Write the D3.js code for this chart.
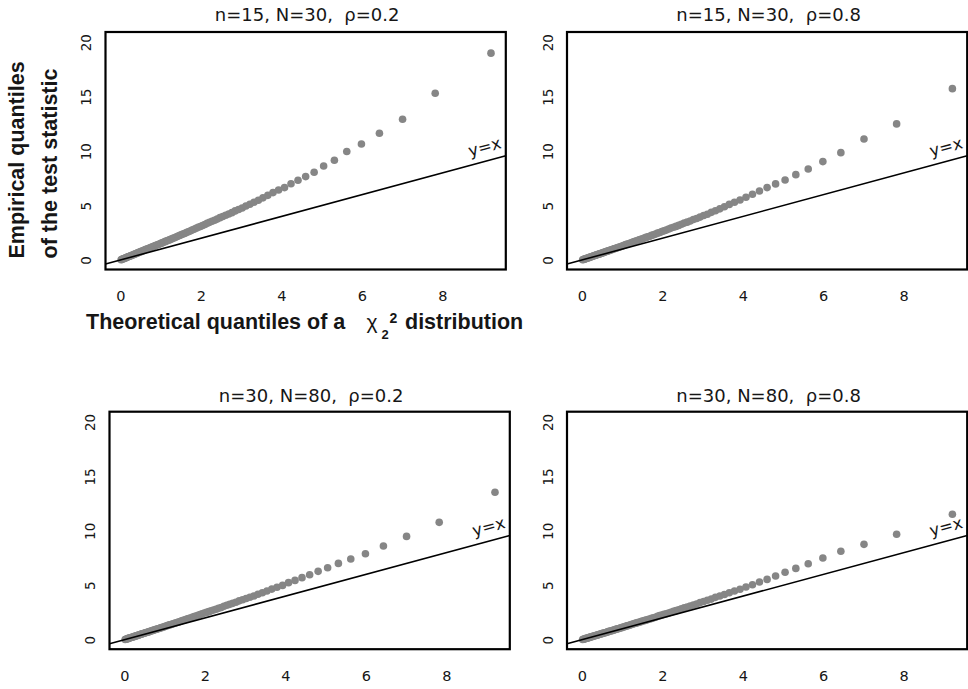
<!DOCTYPE html>
<html>
<head>
<meta charset="utf-8">
<script src="https://cdn.jsdelivr.net/npm/d3@7"></script>
<style>
  html, body { margin: 0; padding: 0; background: #ffffff; }
  svg { display: block; }
  text { white-space: pre; }
</style>
</head>
<body>
<svg id="chart" width="968" height="689"></svg>
<script>
// ---------------- data ----------------
// theoretical chi-square(2) quantiles (p = 0.01 ... 0.99)
const xQuantiles = [
  0.020,0.040,0.061,0.082,0.103,0.124,0.145,0.167,0.189,0.211,
  0.233,0.256,0.279,0.302,0.325,0.349,0.373,0.397,0.421,0.446,
  0.471,0.497,0.523,0.549,0.575,0.602,0.629,0.657,0.685,0.713,
  0.742,0.771,0.801,0.831,0.862,0.893,0.924,0.956,0.989,1.022,
  1.055,1.090,1.124,1.160,1.196,1.232,1.270,1.308,1.347,1.386,
  1.427,1.468,1.510,1.553,1.597,1.642,1.688,1.735,1.783,1.833,
  1.883,1.935,1.989,2.043,2.100,2.158,2.217,2.279,2.342,2.408,
  2.476,2.546,2.619,2.694,2.773,2.854,2.939,3.028,3.121,3.219,
  3.321,3.430,3.544,3.665,3.794,3.932,4.080,4.241,4.415,4.605,
  4.816,5.052,5.319,5.627,5.991,6.438,7.013,7.824,9.210
];

// empirical quantiles, n=15, N=30, rho=0.2
const yN15Rho02 = [
  0.03,0.06,0.09,0.12,0.16,0.19,0.22,0.25,0.29,0.32,
  0.35,0.39,0.42,0.46,0.49,0.53,0.57,0.60,0.64,0.68,
  0.72,0.76,0.79,0.83,0.87,0.92,0.96,1.00,1.04,1.08,
  1.13,1.17,1.22,1.26,1.31,1.36,1.40,1.45,1.50,1.55,
  1.60,1.66,1.71,1.76,1.82,1.87,1.93,1.99,2.05,2.11,
  2.18,2.25,2.31,2.38,2.44,2.53,2.60,2.67,2.75,2.82,
  2.92,3.00,3.08,3.17,3.26,3.37,3.46,3.56,3.65,3.76,
  3.89,4.00,4.11,4.23,4.35,4.51,4.64,4.78,4.96,5.12,
  5.31,5.49,5.71,5.94,6.19,6.43,6.65,7.01,7.32,7.66,
  8.06,8.64,9.16,9.96,10.66,11.64,12.93,15.32,19.00
];

// empirical quantiles, n=15, N=30, rho=0.8
const yN15Rho08 = [
  0.03,0.05,0.08,0.10,0.13,0.16,0.19,0.21,0.24,0.27,
  0.30,0.33,0.36,0.39,0.42,0.45,0.48,0.51,0.54,0.57,
  0.60,0.64,0.67,0.70,0.74,0.77,0.81,0.84,0.88,0.91,
  0.95,0.99,1.03,1.06,1.10,1.14,1.18,1.22,1.27,1.31,
  1.36,1.41,1.45,1.50,1.54,1.59,1.64,1.69,1.74,1.79,
  1.86,1.91,1.96,2.02,2.08,2.13,2.19,2.26,2.32,2.38,
  2.47,2.53,2.61,2.68,2.75,2.85,2.93,3.01,3.09,3.18,
  3.29,3.39,3.48,3.58,3.72,3.82,3.94,4.09,4.21,4.38,
  4.52,4.70,4.89,5.11,5.30,5.51,5.76,6.04,6.34,6.65,
  6.99,7.35,7.84,8.36,9.04,9.86,11.12,12.50,15.74
];

// empirical quantiles, n=30, N=80, rho=0.2
const yN30Rho02 = [
  0.02,0.05,0.07,0.10,0.12,0.15,0.17,0.20,0.23,0.25,
  0.28,0.31,0.33,0.36,0.39,0.42,0.45,0.48,0.51,0.54,
  0.57,0.60,0.63,0.66,0.69,0.72,0.75,0.79,0.82,0.86,
  0.89,0.93,0.96,1.00,1.03,1.07,1.11,1.15,1.19,1.23,
  1.28,1.32,1.36,1.40,1.45,1.49,1.54,1.58,1.63,1.68,
  1.74,1.79,1.84,1.89,1.95,2.00,2.06,2.12,2.18,2.24,
  2.32,2.38,2.45,2.51,2.58,2.65,2.73,2.80,2.88,2.96,
  3.07,3.16,3.25,3.34,3.44,3.57,3.67,3.79,3.90,4.02,
  4.18,4.32,4.47,4.65,4.82,4.99,5.24,5.45,5.70,5.97,
  6.28,6.61,7.01,7.41,7.90,8.61,9.49,10.78,13.54
];

// empirical quantiles, n=30, N=80, rho=0.8
const yN30Rho08 = [
  0.02,0.04,0.07,0.09,0.12,0.14,0.16,0.19,0.21,0.24,
  0.26,0.29,0.31,0.34,0.36,0.39,0.42,0.44,0.47,0.50,
  0.53,0.56,0.59,0.61,0.64,0.67,0.70,0.74,0.77,0.80,
  0.83,0.86,0.90,0.93,0.97,1.00,1.03,1.07,1.11,1.14,
  1.19,1.23,1.27,1.31,1.35,1.39,1.44,1.48,1.52,1.57,
  1.61,1.66,1.71,1.75,1.80,1.86,1.91,1.96,2.01,2.07,
  2.15,2.21,2.27,2.33,2.39,2.46,2.53,2.60,2.67,2.75,
  2.85,2.93,3.01,3.10,3.19,3.28,3.41,3.51,3.62,3.73,
  3.89,4.01,4.15,4.32,4.48,4.64,4.84,5.05,5.30,5.54,
  5.85,6.19,6.55,6.98,7.50,8.12,8.76,9.68,11.52
];

const panelTitles = [
  "n=15, N=30,  \u03c1=0.2",
  "n=15, N=30,  \u03c1=0.8",
  "n=30, N=80,  \u03c1=0.2",
  "n=30, N=80,  \u03c1=0.8"
];
const panelSeries = [yN15Rho02, yN15Rho08, yN30Rho02, yN30Rho08];
const xTickValues = [0, 2, 4, 6, 8];
const yTickValues = [0, 5, 10, 15, 20];
const refLabel = "y=x";

// ---------------- layout ----------------
const boxes = [
  { left: 105.5, right: 505.8, top: 32,    bottom: 269.5, titleY: 21 },
  { left: 567,   right: 967.2, top: 32,    bottom: 269.5, titleY: 21 },
  { left: 109.5, right: 509.8, top: 411.7, bottom: 649.2, titleY: 401.5 },
  { left: 567,   right: 967.2, top: 411.7, bottom: 649.2, titleY: 401.5 }
];
const xDomain = [-0.368, 9.578];
const yDomain = [-0.87, 20.94];

const TXT = "#161616";
const PT = "#868686";
const SANS = "'DejaVu Sans', sans-serif";
const ARIAL = "'Liberation Sans', Arial, sans-serif";

const svg = d3.select("#chart");
svg.append("rect").attr("width", 968).attr("height", 689).attr("fill", "#fff");

panelSeries.forEach((ys, k) => {
  const b = boxes[k];
  const x = d3.scaleLinear().domain(xDomain).range([b.left, b.right]);
  const y = d3.scaleLinear().domain(yDomain).range([b.bottom, b.top]);
  const g = svg.append("g");

  // points
  g.append("g").selectAll("circle")
    .data(xQuantiles.map((xv, i) => [xv, ys[i]]))
    .join("circle")
    .attr("cx", d => x(d[0]))
    .attr("cy", d => y(d[1]))
    .attr("r", 3.8)
    .attr("fill", PT);

  // y = x reference line
  g.append("line")
    .attr("x1", x(xDomain[0])).attr("y1", y(xDomain[0]))
    .attr("x2", x(xDomain[1])).attr("y2", y(xDomain[1]))
    .attr("stroke", "#000").attr("stroke-width", 1.6);

  // y=x label
  const lx = x(9.05), ly = y(10.4);
  const ang = -Math.atan((y(0) - y(1)) / (x(1) - x(0))) * 180 / Math.PI;
  g.append("text")
    .attr("transform", `translate(${lx},${ly}) rotate(${ang})`)
    .attr("text-anchor", "middle")
    .attr("dy", "0.35em")
    .attr("font-family", SANS)
    .attr("font-size", 16.5)
    .attr("fill", TXT)
    .text(refLabel);

  // frame
  g.append("rect")
    .attr("x", b.left).attr("y", b.top)
    .attr("width", b.right - b.left).attr("height", b.bottom - b.top)
    .attr("fill", "none").attr("stroke", "#000").attr("stroke-width", 2.2);

  // x axis (labels only)
  const xa = g.append("g")
    .attr("transform", `translate(0,${b.bottom})`)
    .call(d3.axisBottom(x).tickValues(xTickValues).tickSize(0).tickFormat(d3.format("d")));
  xa.select(".domain").remove();
  xa.selectAll("text")
    .attr("y", 31.5).attr("dy", 0)
    .attr("font-family", SANS).attr("font-size", 14.5).attr("fill", TXT);

  // y axis (rotated labels only)
  const ya = g.append("g")
    .attr("transform", `translate(${b.left},0)`)
    .call(d3.axisLeft(y).tickValues(yTickValues).tickSize(0).tickFormat(d3.format("d")));
  ya.select(".domain").remove();
  ya.selectAll("text")
    .attr("x", 0).attr("y", -14.5).attr("dy", 0)
    .attr("transform", "rotate(-90)")
    .attr("text-anchor", "middle")
    .attr("font-family", SANS).attr("font-size", 13.5).attr("fill", TXT);

  // title
  g.append("text")
    .attr("x", (b.left + b.right) / 2 + 1.5)
    .attr("y", b.titleY)
    .attr("text-anchor", "middle")
    .attr("font-family", SANS)
    .attr("font-size", 18)
    .attr("fill", TXT)
    .text(panelTitles[k]);
});

// y axis title (two lines, rotated)
const yTitle = svg.append("g")
  .attr("font-family", ARIAL).attr("font-weight", "bold")
  .attr("font-size", 21.5).attr("fill", TXT);
yTitle.append("text")
  .attr("transform", "translate(23.5,258.5) rotate(-90)")
  .attr("text-anchor", "start")
  .text("Empirical quantiles");
yTitle.append("text")
  .attr("transform", "translate(57.3,258.5) rotate(-90)")
  .attr("text-anchor", "start")
  .text("of the test statistic");

// x axis title with chi-square symbol
const xTitle = svg.append("g").attr("font-family", ARIAL).attr("fill", TXT);
xTitle.append("text").attr("x", 86).attr("y", 329)
  .attr("font-weight", "bold").attr("font-size", 21.5)
  .text("Theoretical quantiles of a");
xTitle.append("text").attr("x", 366.5).attr("y", 329)
  .attr("font-size", 21).text("\u03c7");
xTitle.append("text").attr("x", 381.5).attr("y", 339)
  .attr("font-weight", "bold").attr("font-size", 13).text("2");
xTitle.append("text").attr("x", 389.5).attr("y", 323)
  .attr("font-weight", "bold").attr("font-size", 14).text("2");
xTitle.append("text").attr("x", 405).attr("y", 329)
  .attr("font-weight", "bold").attr("font-size", 21.5)
  .text("distribution");
</script>
</body>
</html>
